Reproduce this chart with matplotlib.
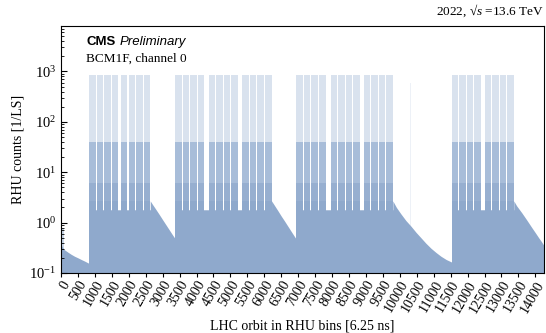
import matplotlib
matplotlib.use("Agg")
import matplotlib.pyplot as plt
import numpy as np

plt.rcParams['font.family'] = ['Liberation Serif', 'DejaVu Serif']
plt.rcParams['mathtext.fontset'] = 'custom'
plt.rcParams['mathtext.rm'] = 'Liberation Serif'
plt.rcParams['mathtext.it'] = 'Liberation Serif:italic'

# injection start bins (each injection = 4 trains of 48 bunches, 4 RHU bins per BX)
injection_starts = [830, 1770, 3370, 4360, 5350, 6945, 7955, 8930, 11530, 12500]
train_offsets = [0, 224, 448, 672]
train_len = 192

# levels (RHU counts / LS)
peak_level = 850
mid_level = 40
low_level = 6
base_level = 2.7

# afterglow / empty-orbit curve, (bin, counts) pairs
glow_x = [0, 50, 100, 200, 300, 400, 500, 600, 700, 829,
          830, 2634,
          2634, 2700, 2800, 2900, 3000, 3100, 3200, 3300, 3369,
          3370, 6214,
          6214, 6300, 6400, 6500, 6600, 6700, 6800, 6900, 6944,
          6945, 9794,
          9794, 9900, 10030, 10180, 10330, 10480, 10625, 10770, 10920, 11070, 11215, 11370, 11529,
          11530, 13364,
          13364, 13450, 13600, 13750, 13900, 14000, 14100, 14180, 14256]
glow_y = [0.36, 0.32, 0.29, 0.26, 0.235, 0.215, 0.2, 0.185, 0.172, 0.155,
          1.8, 1.8,
          2.7, 2.3, 1.83, 1.45, 1.14, 0.9, 0.71, 0.56, 0.48,
          1.8, 1.8,
          2.7, 2.2, 1.73, 1.35, 1.07, 0.84, 0.66, 0.52, 0.47,
          1.8, 1.8,
          2.7, 2.0, 1.5, 1.1, 0.85, 0.64, 0.5, 0.39, 0.31, 0.255, 0.215, 0.185, 0.165,
          1.8, 1.8,
          2.7, 2.15, 1.57, 1.12, 0.79, 0.63, 0.5, 0.42, 0.35]

# isolated bunches
single_x = [3177, 10309]
single_y = [600, 600]

train_starts = []
for s in injection_starts:
    for o in train_offsets:
        train_starts.append(s + o)
train_starts = np.array(train_starts)

col_full = '#8FA9CC'
col_dark = '#97AFD0'
col_mid = '#A8BDD9'
col_light = '#D9E2EE'

fig = plt.figure(figsize=(5.46, 3.33), dpi=100)
ax = fig.add_axes([61/546, 60/333, 483/546, 247/333])

ax.fill_between(glow_x, 0.1, glow_y, color=col_full, linewidth=0, zorder=1)
ax.bar(0, 0.75 - 0.1, bottom=0.1, width=80, align='edge', color='#CBD7E8', linewidth=0, zorder=0.5)
ax.bar(single_x, np.array(single_y) - 0.1, bottom=0.1, width=25, align='edge', color='#EDF1F7', linewidth=0, zorder=0.5)

for lev, col in [(peak_level, col_light), (mid_level, col_mid), (low_level, col_dark), (base_level, col_full)]:
    ax.bar(train_starts, lev - 0.1, bottom=0.1, width=train_len, align='edge',
           color=col, linewidth=0, zorder=2)

ax.set_yscale('log')
ax.set_xlim(0, 14256)
ax.set_ylim(0.1, 8000)
ax.set_xticks(np.arange(0, 14001, 500))
ax.tick_params(axis='x', direction='out', length=3, labelsize=10, labelrotation=60, pad=1)
ax.tick_params(axis='y', which='major', direction='in', length=4, labelsize=10.5)
ax.tick_params(axis='y', which='minor', direction='in', length=2)
for lab in ax.get_xticklabels():
    lab.set_ha('right')
    lab.set_rotation_mode('anchor')

ax.set_xlabel('LHC orbit in RHU bins [6.25 ns]', fontsize=10, labelpad=3)
ax.set_ylabel('RHU counts [1/LS]', fontsize=10, labelpad=3)

ax.text(0.052, 0.925, 'CMS', transform=ax.transAxes, fontsize=9.5, fontweight='bold',
        family='Liberation Sans', va='baseline')
ax.text(0.122, 0.925, 'Preliminary', transform=ax.transAxes, fontsize=9.5, style='italic',
        family='Liberation Sans', va='baseline')
ax.text(0.052, 0.855, 'BCM1F, channel 0', transform=ax.transAxes, fontsize=9.5, va='baseline')
ax.text(1.0, 1.03, '2022, √$s$ =13.6 TeV', transform=ax.transAxes, fontsize=9.5,
        ha='right', va='bottom')

fig.savefig('out.png', dpi=100)
